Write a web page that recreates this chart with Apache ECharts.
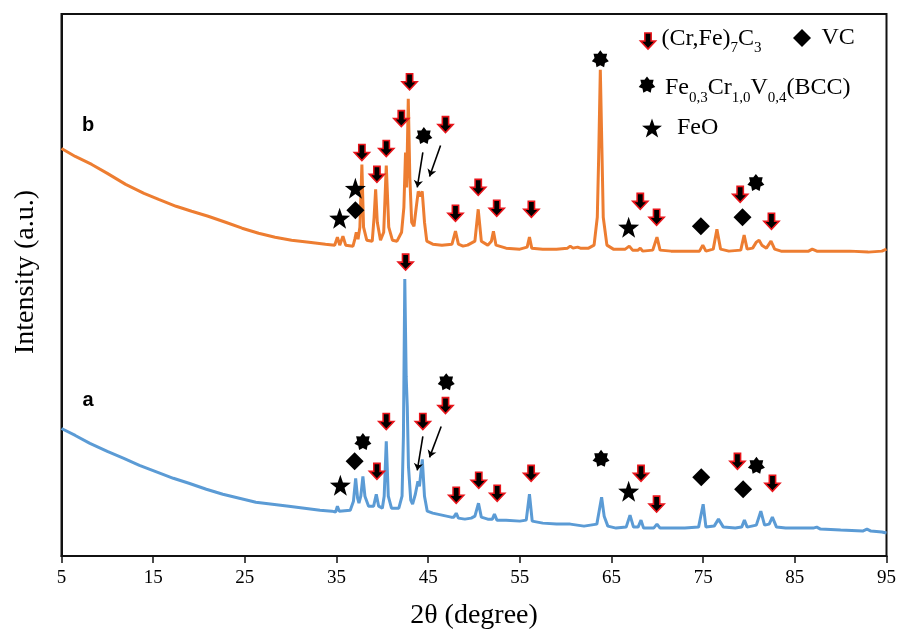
<!DOCTYPE html>
<html><head><meta charset="utf-8">
<script src="https://cdn.jsdelivr.net/npm/echarts@6/dist/echarts.min.js"></script>
<style>html,body{margin:0;padding:0;background:#fff}#c{width:899px;height:635px}</style>
</head><body><div id="c"></div>
<script>
// ---------- data (2θ in degrees, intensity in a.u.) ----------
const tickLabels = ['5','15','25','35','45','55','65','75','85','95'];

const curveB = [[5.0,409],[6.5,401],[8.3,393],[10,384],[12.0,373],[14,364],[15.6,358],[17.5,351],[19.2,346],[21,341],[22.9,335],[24.7,329],[26.5,324],[28.3,320],[30.1,317],[32,315],[33.8,313],[34.8,312],
[35.1,320],[35.35,312],[35.7,321],[36.0,312],[36.8,311],[37.0,318],[37.16,325],[37.35,318],[37.55,330],[37.77,393],[37.95,330],[38.3,317],[38.9,316],[39.1,340],[39.27,368],[39.45,335],[39.8,317],[40.15,325],[40.43,392],[40.7,330],[41.1,317],[41.6,316],[42.1,325],[42.35,350],[42.53,405],[42.65,370],[42.83,459],[43.0,380],[43.2,335],[43.45,331],[43.7,350],[43.92,366],[44.12,361],[44.35,366],[44.6,335],[44.85,316],[45.5,313],[46.5,312],[47.6,313],[47.98,326],[48.3,313],[48.8,311],[49.3,312],[50.1,316],[50.46,348],[50.8,316],[51.5,312],[51.9,316],[52.12,326],[52.4,312],[53.5,309],[55,308],[55.8,310],[56.05,320],[56.3,309],[57.5,308],[59,308],[60.2,309],[60.5,311],[60.8,309],[61.3,310],[61.6,309],[62.5,309],[63.1,312],[63.45,340],[63.6,400],[63.78,488],[63.95,410],[64.1,340],[64.5,312],[65.2,308],[66.5,308],[66.94,311],[67.3,307],[67.9,307],[68.14,309],[68.4,306],[69.5,307],[69.96,320],[70.3,307],[71.5,306],[73,306],[74.6,306],[74.96,312],[75.3,306],[76.1,308],[76.5,328],[76.9,308],[77.8,306],[79.1,307],[79.47,322],[79.8,308],[80.4,309],[80.8,315],[81.1,317],[81.4,312],[81.9,309],[82.4,316],[82.8,308],[83.5,306],[85,306],[86.5,306],[86.9,308],[87.4,306],[89,306],[91,306],[93,305],[94.5,306],[95,308]];

const curveA = [[5.0,128],[6.5,121],[8.1,113],[10,105],[11.8,98],[13.5,91],[15.5,84],[17.2,78],[18.9,73],[20.8,67],[22.6,62],[24.4,58],[26.2,54],[28,52],[29.8,50],[31.5,48],[33.2,46],[34.5,45],[34.9,44],[35.1,50],[35.3,45],[36.5,46],[36.85,55],[37.09,78],[37.3,58],[37.45,53],[37.65,60],[37.88,80],[38.1,60],[38.5,50],[39.05,50],[39.34,62],[39.6,50],[40.0,48],[40.2,60],[40.43,115],[40.65,60],[41.0,48],[41.8,48],[42.15,60],[42.3,120],[42.45,278],[42.6,180],[42.72,150],[42.85,90],[43.1,56],[43.3,52],[43.6,62],[43.88,75],[44.05,70],[44.36,97],[44.6,60],[44.9,45],[45.5,43],[46.5,41],[47.5,39],[47.8,39],[48.06,43],[48.3,38],[49,37],[49.7,38],[50.1,40],[50.49,53],[50.8,39],[51.5,37],[52.0,37],[52.23,42],[52.5,36],[53.5,36],[55.0,35],[55.7,36],[56.05,62],[56.35,35],[57.5,33],[59,32],[60.5,32],[62,30],[63.4,32],[63.65,45],[63.92,59],[64.2,40],[64.6,30],[65.5,28],[66.6,29],[67.02,41],[67.4,29],[67.9,29],[68.22,36],[68.5,28],[69.6,28],[69.96,32],[70.3,28],[71.5,28],[73,28],[74.5,29],[75.0,52],[75.3,29],[76.2,30],[76.67,37],[77.2,29],[78.5,28],[79.2,29],[79.5,36],[79.8,29],[80.8,31],[81.29,45],[81.7,31],[82.2,32],[82.55,39],[83,29],[84,28],[86,28],[87.0,28],[87.39,29],[87.8,27],[90,26],[92.4,25],[92.87,27],[93.3,25],[94.5,24],[95,23]];

// phase markers: [2θ, intensity]
const carbideB = [[42.97,476],[42.07,439],[37.77,405],[40.43,409],[39.41,383],[46.89,433],[47.98,344],[50.46,370],[52.48,349],[56.26,348],[68.14,356],[69.92,340],[79.04,363],[82.45,336]];
const carbideA = [[42.54,295],[40.43,135],[44.42,135],[46.89,151],[39.41,85],[48.06,61],[50.52,76],[52.53,63],[56.23,83],[68.22,83],[69.92,52],[78.74,95],[82.56,73]];
const feoB = [[35.34,339],[37.06,369],[66.87,330]];
const feoA = [[35.42,71],[66.87,65]];
const vcB = [[37.06,347],[74.75,331],[79.29,340]];
const vcA = [[36.98,95],[74.79,79],[79.36,67]];
const bccB = [[44.53,422],[63.78,499],[80.75,375]];
const bccA = [[46.97,175],[37.88,115],[63.86,98],[80.81,91]];
const pointersB = [[[44.42,405],[43.81,370]],[[46.35,412],[45.15,381]]];
const pointersA = [[[44.42,120],[43.81,86]],[[46.42,130],[45.15,99]]];

// ---------- shapes (unit box 0..1) ----------
function starPts(n, ratio) {
  const pts = [];
  for (let i = 0; i < 2 * n; i++) {
    const a = -Math.PI / 2 + i * Math.PI / n;
    const r = (i % 2) ? 0.5 * ratio : 0.5;
    pts.push([0.5 + r * Math.cos(a), 0.5 + r * Math.sin(a)]);
  }
  return pts;
}
const STAR_P = starPts(5, 0.4);
const HEPTA_P = starPts(7, 0.68);
const ARROW_P = [[0.29,0],[0.71,0],[0.71,0.5],[1,0.5],[0.5,1],[0,0.5],[0.29,0.5]];
const DIAMOND_P = [[0.5,0],[1,0.5],[0.5,1],[0,0.5]];
function toPath(pts) { return 'path://M' + pts.map(p => (p[0] * 100).toFixed(2) + ',' + (p[1] * 100).toFixed(2)).join('L') + 'Z'; }

const SERIF = '"Liberation Serif","Times New Roman",serif';

function scatter(name, data, pts, size, style) {
  return { name, type: 'scatter', data, symbol: toPath(pts), symbolSize: size, symbolKeepAspect: false,
    itemStyle: Object.assign({ color: '#000', opacity: 1 }, style || {}), z: 5, silent: true };
}
const redArrowStyle = { color: '#000', borderColor: '#E8151B', borderWidth: 1.6 };

// ---------- legend (graphic) ----------
const mctx = document.createElement('canvas').getContext('2d');
function tw(t, size) { mctx.font = size + 'px ' + SERIF; return mctx.measureText(t).width; }
function textLine(x, midY, parts, big, small, subDy) {
  const els = [];
  let cx = x;
  parts.forEach(([t, sub]) => {
    const sz = sub ? small : big;
    els.push({ type: 'text', x: cx, y: sub ? midY + subDy : midY,
      style: { text: t, font: sz + 'px ' + SERIF, fill: '#000', textAlign: 'left', textVerticalAlign: 'middle', align: 'left', verticalAlign: 'middle' } });
    cx += tw(t, sz);
  });
  return els;
}
function polyEl(pts, cx, cy, w, h, fill, stroke, lw) {
  return { type: 'polygon', shape: { points: pts.map(p => [cx - w / 2 + p[0] * w, cy - h / 2 + p[1] * h]) },
    style: { fill, stroke: stroke || null, lineWidth: lw || 0 } };
}
const graphics = [].concat(
  [polyEl(ARROW_P, 648, 41, 15, 16, '#000', '#E8151B', 1.6)],
  textLine(661.5, 39, [['(Cr,Fe)', 0], ['7', 1], ['C', 0], ['3', 1]], 24, 15, 9),
  [polyEl(DIAMOND_P, 802, 38, 18, 18, '#000')],
  textLine(821.5, 38, [['VC', 0]], 24, 15, 9),
  [polyEl(HEPTA_P, 647, 85, 17, 17, '#000')],
  textLine(665, 88, [['Fe', 0], ['0,3', 1], ['Cr', 0], ['1,0', 1], ['V', 0], ['0,4', 1], ['(BCC)', 0]], 24, 15, 10),
  [polyEl(STAR_P, 652, 129, 21, 21, '#000')],
  textLine(677, 128, [['FeO', 0]], 24, 15, 9),
  [
    { type: 'text', x: 88, y: 125, style: { text: 'b', font: 'bold 20px "Liberation Sans",Arial,sans-serif', fill: '#000', textAlign: 'center', textVerticalAlign: 'middle', align: 'center', verticalAlign: 'middle' } },
    { type: 'text', x: 88, y: 400, style: { text: 'a', font: 'bold 20px "Liberation Sans",Arial,sans-serif', fill: '#000', textAlign: 'center', textVerticalAlign: 'middle', align: 'center', verticalAlign: 'middle' } },
    { type: 'text', x: 26, y: 272, rotation: Math.PI / 2, style: { text: 'Intensity (a.u.)', font: '28px ' + SERIF, fill: '#000', textAlign: 'center', textVerticalAlign: 'middle', align: 'center', verticalAlign: 'middle' } }
  ]
);

const chart = echarts.init(document.getElementById('c'), null, { renderer: 'canvas' });
chart.setOption({
  animation: false,
  backgroundColor: '#fff',
  grid: { left: 61.5, right: 11.5, top: 14, bottom: 77, show: true, borderColor: '#111', borderWidth: 2, backgroundColor: 'transparent' },
  xAxis: [
    { type: 'value', min: 5, max: 95, interval: 10, position: 'bottom',
      axisLine: { show: true, onZero: false, lineStyle: { color: '#111', width: 2 } },
      axisTick: { show: true, length: 4, lineStyle: { color: '#111', width: 1.5 } },
      axisLabel: { show: false }, splitLine: { show: false } },
    { type: 'value', min: 0, max: 90, interval: 10, position: 'bottom', offset: 0,
      axisLine: { show: false, onZero: false },
      axisTick: { show: true, length: 7, lineStyle: { color: '#111', width: 1.5 } },
      axisLabel: { show: true, formatter: v => tickLabels[Math.round(v / 10)], fontFamily: SERIF, fontSize: 19, color: '#000', margin: 13 },
      splitLine: { show: false },
      name: '2θ (degree)', nameLocation: 'middle', nameGap: 46,
      nameTextStyle: { fontFamily: SERIF, fontSize: 28, color: '#000' } }
  ],
  yAxis: { type: 'value', min: 0, max: 544, axisLine: { show: true, lineStyle: { color: '#111', width: 2 } },
    axisTick: { show: false }, axisLabel: { show: false }, splitLine: { show: false } },
  graphic: { elements: graphics },
  series: [
    { name: 'b', type: 'line', data: curveB, showSymbol: false, symbol: 'none', lineStyle: { color: '#ED7D31', width: 3 }, z: 2, silent: true },
    { name: 'a', type: 'line', data: curveA, showSymbol: false, symbol: 'none', lineStyle: { color: '#5B9BD5', width: 3 }, z: 2, silent: true },
    scatter('carbideB', carbideB, ARROW_P, [15, 16], redArrowStyle),
    scatter('carbideA', carbideA, ARROW_P, [15, 16], redArrowStyle),
    scatter('feoB', feoB, STAR_P, 21),
    scatter('feoA', feoA, STAR_P, 21),
    scatter('vcB', vcB, DIAMOND_P, 18),
    scatter('vcA', vcA, DIAMOND_P, 18),
    scatter('bccB', bccB, HEPTA_P, 17),
    scatter('bccA', bccA, HEPTA_P, 17),
    { type: 'lines', coordinateSystem: 'cartesian2d', data: pointersB.concat(pointersA).map(c => ({ coords: c })),
      symbol: ['none', 'arrow'], symbolSize: 7, lineStyle: { color: '#000', width: 1.6, opacity: 1 }, z: 6, silent: true }
  ]
});
</script>
</body></html>
